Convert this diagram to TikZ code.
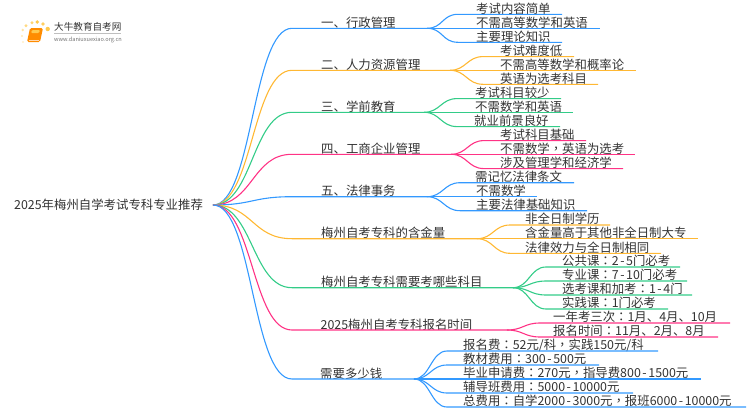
\documentclass[tikz,border=0pt]{standalone}
\usepackage{fontspec}
\setmainfont{Noto Sans CJK SC}
\newfontfamily\puncfont{Noto Sans CJK TC}
\newcommand{\cln}{{\puncfont ：}}
\newcommand{\cma}{{\puncfont ，}}
\newcommand{\hyp}{\kern1.6pt-\kern1.6pt}
\definecolor{lineblue}{HTML}{3399FF}
\definecolor{lineorange}{HTML}{FFB833}
\definecolor{linegreen}{HTML}{33CC88}
\definecolor{linepink}{HTML}{FF3385}
\definecolor{inkgray}{HTML}{333333}
\definecolor{dotgold}{HTML}{FFC94D}
\begin{document}
\begin{tikzpicture}[x=1pt,y=-1pt,
  txt/.style={inner sep=0pt,anchor=base west,text=inkgray,font=\fontsize{12.4}{12.4}\selectfont},
  link/.style={line width=1.1pt},
  dot/.style={circle,inner sep=0pt,fill=dotgold!#1,draw=none}]
\useasboundingbox (0,0) rectangle (750,410);

% logo
\node[dot=100,minimum size=4.4pt] (d1) at (47.7,29) {};
\node[dot=90,minimum size=3.6pt] (d2) at (43,24) {};
\node[dot=100,minimum size=3.8pt] (d3) at (37.3,22) {};
\node[dot=80,minimum size=3.4pt] (d4) at (32,22.7) {};
\node[dot=70,minimum size=3.2pt] (d5) at (26,25.7) {};
\node[dot=50,minimum size=2.8pt] (d6) at (22.7,30) {};
\node[dot=40,minimum size=2.4pt] (d7) at (22,36) {};
\node[dot=30,minimum size=2.2pt] (d8) at (23,42) {};
\fill[orange!90!yellow,rounded corners=1.5pt] (30,28) -- (43,28) -- (40,42) -- (27,42) -- cycle;
\fill[dotgold,rounded corners=1pt] (32,30) -- (40,30) -- (39,33) -- (31,33) -- cycle;
\draw[white!70!orange,line width=0.6pt] (28.5,39.8) -- (39,39.8);
\node[inner sep=0pt,anchor=base west,text=inkgray,font=\fontsize{9.6}{9.6}\selectfont] (logotitle) at (54,30.5) {大牛教育自考网};
\coordinate (logoa) at (54,33.5);
\coordinate (logob) at (121,33.5);
\draw[black!25,line width=0.5pt] (logoa) -- (logob);
\node[inner sep=0pt,anchor=base west,text=black!55,font=\fontsize{5.6}{5.6}\selectfont] (logourl) at (54,41) {www.daniuxuexiao.org.cn};

% root
\node[txt] (root) at (14,209.5) {2025年梅州自学考试专科专业推荐};
\coordinate (R) at (213,205);

% main branches
\node[txt] (A) at (321,27) {一、行政管理};
\node[txt] (B) at (321,69) {二、人力资源管理};
\node[txt] (C) at (321,111) {三、学前教育};
\node[txt] (D) at (321,153) {四、工商企业管理};
\node[txt] (E) at (321,195.5) {五、法律事务};
\node[txt] (F) at (321,237.5) {梅州自考专科的含金量};
\node[txt] (G) at (321,286.5) {梅州自考专科需要考哪些科目};
\node[txt] (H) at (320.5,329) {2025梅州自考专科报名时间};
\node[txt] (I) at (320,378) {需要多少钱};

\coordinate (A0) at (292,28.3);
\coordinate (B0) at (292,70.3);
\coordinate (C0) at (292,112.3);
\coordinate (D0) at (292,154.3);
\coordinate (E0) at (292,196.7);
\coordinate (F0) at (292,238.7);
\coordinate (G0) at (292,287.7);
\coordinate (H0) at (292,330);
\coordinate (I0) at (292,379);

\coordinate (Af) at (427,28.3);
\coordinate (Bf) at (450,70.3);
\coordinate (Cf) at (424,112.3);
\coordinate (Df) at (451,154.3);
\coordinate (Ef) at (427,196.7);
\coordinate (Ff) at (477,238.7);
\coordinate (Gf) at (513,287.7);
\coordinate (Hf) at (507,330);
\coordinate (If) at (414,379);

\draw[link,lineblue] (R) .. controls +(40,0) and +(-40,0) .. (A0) -- (Af);
\draw[link,lineorange] (R) .. controls +(40,0) and +(-40,0) .. (B0) -- (Bf);
\draw[link,linegreen] (R) .. controls +(40,0) and +(-40,0) .. (C0) -- (Cf);
\draw[link,linepink] (R) .. controls +(40,0) and +(-40,0) .. (D0) -- (Df);
\draw[link,lineblue] (R) .. controls +(40,0) and +(-40,0) .. (E0) -- (Ef);
\draw[link,lineorange] (R) .. controls +(40,0) and +(-40,0) .. (F0) -- (Ff);
\draw[link,linegreen] (R) .. controls +(40,0) and +(-40,0) .. (G0) -- (Gf);
\draw[link,linepink] (R) .. controls +(40,0) and +(-40,0) .. (H0) -- (Hf);
\draw[link,lineblue] (R) .. controls +(40,0) and +(-40,0) .. (I0) -- (If);

% leaves
\node[txt] (A1) at (476,13) {考试内容简单};
\node[txt] (A2) at (476,27) {不需高等数学和英语};
\node[txt] (A3) at (476,41) {主要理论知识};
\coordinate (A1e) at (562,14.3);
\coordinate (A2e) at (600,28.3);
\coordinate (A3e) at (562,42.3);
\draw[link,lineblue] (Af) .. controls +(16,0) and +(-16,0) .. (458,14.3) -- (A1e);
\draw[link,lineblue] (Af) -- (A2e);
\draw[link,lineblue] (Af) .. controls +(16,0) and +(-16,0) .. (458,42.3) -- (A3e);

\node[txt] (B1) at (500,55.3) {考试难度低};
\node[txt] (B2) at (500,69) {不需高等数学和概率论};
\node[txt] (B3) at (500,83) {英语为选考科目};
\coordinate (B1e) at (574,56.6);
\coordinate (B2e) at (636,70.3);
\coordinate (B3e) at (598,84.3);
\draw[link,lineorange] (Bf) .. controls +(16,0) and +(-16,0) .. (483,56.6) -- (B1e);
\draw[link,lineorange] (Bf) -- (B2e);
\draw[link,lineorange] (Bf) .. controls +(16,0) and +(-16,0) .. (483,84.3) -- (B3e);

\node[txt] (C1) at (475,97.3) {考试科目较少};
\node[txt] (C2) at (475,111) {不需数学和英语};
\node[txt] (C3) at (474,125.3) {就业前景良好};
\coordinate (C1e) at (561,98.6);
\coordinate (C2e) at (573,112.3);
\coordinate (C3e) at (560,126.6);
\draw[link,linegreen] (Cf) .. controls +(16,0) and +(-16,0) .. (457,98.6) -- (C1e);
\draw[link,linegreen] (Cf) -- (C2e);
\draw[link,linegreen] (Cf) .. controls +(16,0) and +(-16,0) .. (457,126.6) -- (C3e);

\node[txt] (D1) at (500,139.3) {考试科目基础};
\node[txt] (D2) at (500,153) {不需数学\cma 英语为选考};
\node[txt] (D3) at (500,167.3) {涉及管理学和经济学};
\coordinate (D1e) at (586,140.6);
\coordinate (D2e) at (635,154.3);
\coordinate (D3e) at (623,168.6);
\draw[link,linepink] (Df) .. controls +(16,0) and +(-16,0) .. (484,140.6) -- (D1e);
\draw[link,linepink] (Df) -- (D2e);
\draw[link,linepink] (Df) .. controls +(16,0) and +(-16,0) .. (484,168.6) -- (D3e);

\node[txt] (E1) at (475,181.4) {需记忆法律条文};
\node[txt] (E2) at (476,195.4) {不需数学};
\node[txt] (E3) at (476,209.4) {主要法律基础知识};
\coordinate (E1e) at (574,182.7);
\coordinate (E2e) at (537,196.7);
\coordinate (E3e) at (587,210.7);
\draw[link,lineblue] (Ef) .. controls +(16,0) and +(-16,0) .. (460,182.7) -- (E1e);
\draw[link,lineblue] (Ef) -- (E2e);
\draw[link,lineblue] (Ef) .. controls +(16,0) and +(-16,0) .. (460,210.7) -- (E3e);

\node[txt] (F1) at (525,223.7) {非全日制学历};
\node[txt] (F2) at (525,237.5) {含金量高于其他非全日制大专};
\node[txt] (F3) at (525,252) {法律效力与全日制相同};
\coordinate (F1e) at (610,225);
\coordinate (F2e) at (698,238.7);
\coordinate (F3e) at (661,253.3);
\draw[link,lineorange] (Ff) .. controls +(16,0) and +(-16,0) .. (510,225) -- (F1e);
\draw[link,lineorange] (Ff) -- (F2e);
\draw[link,lineorange] (Ff) .. controls +(16,0) and +(-16,0) .. (510,253.3) -- (F3e);

\node[txt] (G1) at (562,265.7) {公共课\cln 2\hyp 5门必考};
\node[txt] (G2) at (562,279.7) {专业课\cln 7\hyp 10门必考};
\node[txt] (G3) at (562,293.7) {选考课和加考\cln 1\hyp 4门};
\node[txt] (G4) at (562,307.7) {实践课\cln 1门必考};
\coordinate (G1e) at (680,267);
\coordinate (G2e) at (687,281);
\coordinate (G3e) at (692,295);
\coordinate (G4e) at (668,309);
\draw[link,linegreen] (Gf) .. controls +(16,0) and +(-16,0) .. (546,267) -- (G1e);
\draw[link,linegreen] (Gf) .. controls +(16,0) and +(-16,0) .. (546,281) -- (G2e);
\draw[link,linegreen] (Gf) .. controls +(16,0) and +(-16,0) .. (546,295) -- (G3e);
\draw[link,linegreen] (Gf) .. controls +(16,0) and +(-16,0) .. (546,309) -- (G4e);

\node[txt] (H1) at (553,321.7) {一年考三次\cln 1月、4月、10月};
\node[txt] (H2) at (553,335.7) {报名时间\cln 11月、2月、8月};
\coordinate (H1e) at (730,323);
\coordinate (H2e) at (718,337);
\draw[link,linepink] (Hf) .. controls +(16,0) and +(-16,0) .. (540,323) -- (H1e);
\draw[link,linepink] (Hf) .. controls +(16,0) and +(-16,0) .. (540,337) -- (H2e);

\node[txt] (I1) at (463,349.7) {报名费\cln 52元/科\cma 实践150元/科};
\node[txt] (I2) at (463,363.7) {教材费用\cln 300\hyp 500元};
\node[txt] (I3) at (463,377.7) {毕业申请费\cln 270元\cma 指导费800\hyp 1500元};
\node[txt] (I4) at (463,391.7) {辅导班费用\cln 5000\hyp 10000元};
\node[txt] (I5) at (463,405.7) {总费用\cln 自学2000\hyp 3000元\cma 报班6000\hyp 10000元};
\coordinate (I1e) at (658,351);
\coordinate (I2e) at (599,365);
\coordinate (I3e) at (701,379);
\coordinate (I4e) at (633,393);
\coordinate (I5e) at (746,407);
\draw[link,lineblue] (If) .. controls +(16,0) and +(-16,0) .. (447,351) -- (I1e);
\draw[link,lineblue] (If) .. controls +(16,0) and +(-16,0) .. (447,365) -- (I2e);
\draw[link,lineblue] (If) -- (I3e);
\draw[link,lineblue] (If) .. controls +(16,0) and +(-16,0) .. (447,393) -- (I4e);
\draw[link,lineblue] (If) .. controls +(16,0) and +(-16,0) .. (447,407) -- (I5e);
\end{tikzpicture}
\end{document}
